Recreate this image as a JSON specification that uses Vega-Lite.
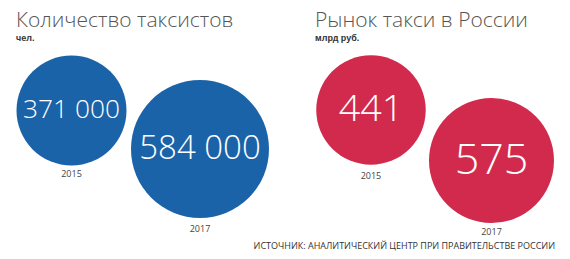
{
  "$schema": "https://vega.github.io/schema/vega-lite/v6.json",
  "padding": {"top": 10, "left": 0, "right": 0, "bottom": 0},
  "background": "white",
  "config": {
    "view": {"stroke": null},
    "concat": {"spacing": 0},
    "title": {"font": "Open Sans", "color": "#555555"}
  },
  "title": {
    "text": "ИСТОЧНИК: АНАЛИТИЧЕСКИЙ ЦЕНТР ПРИ ПРАВИТЕЛЬСТВЕ РОССИИ",
    "orient": "bottom",
    "anchor": "end",
    "fontSize": 9,
    "fontWeight": "normal",
    "font": "Open Sans",
    "color": "#333333",
    "dx": -15,
    "offset": 5
  },
  "resolve": {"scale": {"x": "independent", "y": "independent", "size": "independent"}},
  "hconcat": [
    {
      "width": 285,
      "height": 185,
      "title": {
        "text": "Количество таксистов",
        "subtitle": "чел.",
        "anchor": "start",
        "fontSize": 21,
        "fontWeight": 300,
        "color": "#555555",
        "subtitleFontSize": 9,
        "subtitleFontWeight": "bold",
        "subtitleColor": "#333333",
        "subtitlePadding": 3,
        "dx": 16,
        "offset": 8
      },
      "data": {"values": [
        {"year": 2015, "value": 371000, "label": "371 000"},
        {"year": 2017, "value": 584000, "label": "584 000"}
      ]},
      "resolve": {"scale": {"y": "independent", "size": "independent"}},
      "encoding": {
        "x": {"field": "year", "type": "quantitative", "axis": null, "scale": {"domain": [2013.887, 2018.323], "nice": false, "zero": false}}
      },
      "layer": [
        {
          "mark": {"type": "circle", "opacity": 1, "color": "#1b63a8"},
          "encoding": {
            "y": {"field": "year", "type": "quantitative", "axis": null, "scale": {"domain": [2011.909, 2021.52], "nice": false, "zero": false, "reverse": true}},
            "size": {"field": "value", "type": "quantitative", "legend": null, "scale": {"type": "linear", "domain": [0, 584000], "range": [0, 19044]}}
          }
        },
        {
          "mark": {"type": "text", "color": "white", "font": "Open Sans", "fontWeight": 300, "baseline": "middle"},
          "encoding": {
            "y": {"field": "year", "type": "quantitative", "axis": null, "scale": {"domain": [2011.909, 2021.52], "nice": false, "zero": false, "reverse": true}},
            "text": {"field": "label", "type": "nominal"},
            "size": {"field": "value", "type": "quantitative", "legend": null, "scale": {"type": "sqrt", "domain": [0, 584000], "range": [0, 33]}}
          }
        },
        {
          "mark": {"type": "text", "color": "#444444", "font": "Open Sans", "fontSize": 9, "baseline": "middle"},
          "encoding": {
            "y": {"field": "year", "type": "quantitative", "axis": null, "scale": {"domain": [2010.527, 2017.25], "nice": false, "zero": false, "reverse": true}},
            "text": {"field": "year", "type": "nominal"}
          }
        }
      ]
    },
    {
      "width": 285,
      "height": 185,
      "title": {
        "text": "Рынок такси в России",
        "subtitle": "млрд руб.",
        "anchor": "start",
        "fontSize": 21,
        "fontWeight": 300,
        "color": "#555555",
        "subtitleFontSize": 9,
        "subtitleFontWeight": "bold",
        "subtitleColor": "#333333",
        "subtitlePadding": 3,
        "dx": 30,
        "offset": 8
      },
      "data": {"values": [
        {"year": 2015, "value": 441, "label": "441"},
        {"year": 2017, "value": 575, "label": "575"}
      ]},
      "resolve": {"scale": {"y": "independent", "size": "independent"}},
      "encoding": {
        "x": {"field": "year", "type": "quantitative", "axis": null, "scale": {"domain": [2013.573, 2018.303], "nice": false, "zero": false}}
      },
      "layer": [
        {
          "mark": {"type": "circle", "opacity": 1, "color": "#d22a4d"},
          "encoding": {
            "y": {"field": "year", "type": "quantitative", "axis": null, "scale": {"domain": [2012.663, 2019.99], "nice": false, "zero": false, "reverse": true}},
            "size": {"field": "value", "type": "quantitative", "legend": null, "scale": {"type": "linear", "domain": [0, 575], "range": [0, 15625]}}
          }
        },
        {
          "mark": {"type": "text", "color": "white", "font": "Open Sans", "fontWeight": 300, "baseline": "middle"},
          "encoding": {
            "y": {"field": "year", "type": "quantitative", "axis": null, "scale": {"domain": [2012.663, 2019.99], "nice": false, "zero": false, "reverse": true}},
            "text": {"field": "label", "type": "nominal"},
            "size": {"field": "value", "type": "quantitative", "legend": null, "scale": {"type": "sqrt", "domain": [0, 575], "range": [0, 43]}}
          }
        },
        {
          "mark": {"type": "text", "color": "#444444", "font": "Open Sans", "fontSize": 9, "baseline": "middle"},
          "encoding": {
            "y": {"field": "year", "type": "quantitative", "axis": null, "scale": {"domain": [2010.536, 2017.143], "nice": false, "zero": false, "reverse": true}},
            "text": {"field": "year", "type": "nominal"}
          }
        }
      ]
    }
  ]
}
